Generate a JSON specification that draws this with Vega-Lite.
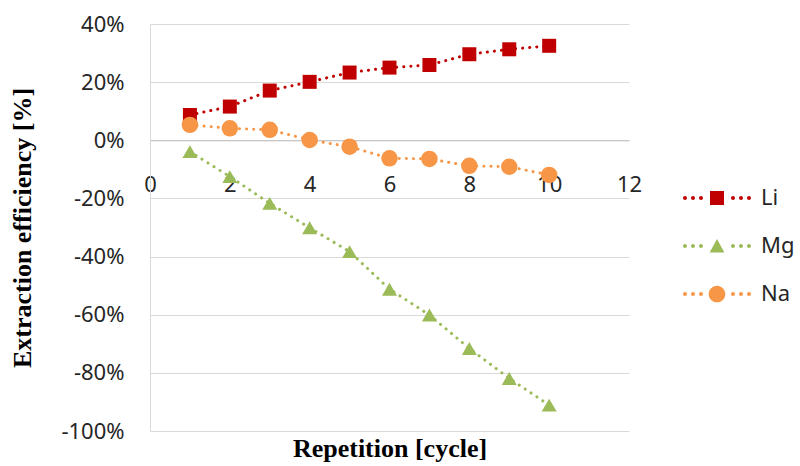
{
  "$schema": "https://vega.github.io/schema/vega-lite/v6.json",
  "autosize": {"type": "none"},
  "padding": {"left": 150, "top": 24, "right": 171, "bottom": 35},
  "width": 479,
  "height": 407,
  "background": "white",
  "config": {
    "view": {"stroke": null},
    "font": "Noto Sans"
  },
  "data": {
    "values": [
      {"series": "Li", "cycle": 1, "value": 0.087},
      {"series": "Li", "cycle": 2, "value": 0.116},
      {"series": "Li", "cycle": 3, "value": 0.171},
      {"series": "Li", "cycle": 4, "value": 0.201},
      {"series": "Li", "cycle": 5, "value": 0.233},
      {"series": "Li", "cycle": 6, "value": 0.250},
      {"series": "Li", "cycle": 7, "value": 0.259},
      {"series": "Li", "cycle": 8, "value": 0.296},
      {"series": "Li", "cycle": 9, "value": 0.313},
      {"series": "Li", "cycle": 10, "value": 0.325},
      {"series": "Mg", "cycle": 1, "value": -0.039},
      {"series": "Mg", "cycle": 2, "value": -0.125},
      {"series": "Mg", "cycle": 3, "value": -0.217},
      {"series": "Mg", "cycle": 4, "value": -0.301},
      {"series": "Mg", "cycle": 5, "value": -0.383},
      {"series": "Mg", "cycle": 6, "value": -0.512},
      {"series": "Mg", "cycle": 7, "value": -0.601},
      {"series": "Mg", "cycle": 8, "value": -0.716},
      {"series": "Mg", "cycle": 9, "value": -0.819},
      {"series": "Mg", "cycle": 10, "value": -0.911},
      {"series": "Na", "cycle": 1, "value": 0.053},
      {"series": "Na", "cycle": 2, "value": 0.041},
      {"series": "Na", "cycle": 3, "value": 0.036},
      {"series": "Na", "cycle": 4, "value": 0.001},
      {"series": "Na", "cycle": 5, "value": -0.022},
      {"series": "Na", "cycle": 6, "value": -0.062},
      {"series": "Na", "cycle": 7, "value": -0.064},
      {"series": "Na", "cycle": 8, "value": -0.088},
      {"series": "Na", "cycle": 9, "value": -0.091},
      {"series": "Na", "cycle": 10, "value": -0.119}
    ]
  },
  "encoding": {
    "x": {
      "field": "cycle", "type": "quantitative",
      "scale": {"domain": [0, 12], "nice": false, "zero": false},
      "axis": {
        "title": "Repetition [cycle]",
        "values": [0, 2, 4, 6, 8, 10, 12],
        "grid": false, "ticks": false,
        "offset": -290.7,
        "domainColor": "#bfbfbf", "domainWidth": 1,
        "labelFont": "Noto Sans", "labelFontSize": 22, "labelColor": "#262626",
        "labelPadding": 34, "labelFlush": false,
        "titleFont": "Liberation Serif", "titleFontSize": 26, "titleFontWeight": "bold", "titleColor": "#000000",
        "titleY": 295
      }
    },
    "y": {
      "field": "value", "type": "quantitative",
      "scale": {"domain": [-1, 0.4], "nice": false, "zero": false},
      "axis": {
        "title": "Extraction efficiency [%]",
        "values": [-1, -0.8, -0.6, -0.4, -0.2, 0, 0.2, 0.4],
        "labelExpr": "round(datum.value*100) + '%'",
        "grid": true, "gridColor": "#d9d9d9", "gridWidth": 1,
        "ticks": false,
        "domainColor": "#d9d9d9", "domainWidth": 1,
        "labelFont": "Noto Sans", "labelFontSize": 22, "labelColor": "#262626",
        "labelPadding": 26,
        "titleFont": "Liberation Serif", "titleFontSize": 26, "titleFontWeight": "bold", "titleColor": "#000000",
        "titleX": -128, "titleY": 203.5, "titleBaseline": "middle", "titleAlign": "center"
      }
    },
    "color": {
      "field": "series", "type": "nominal",
      "scale": {"domain": ["Li", "Mg", "Na"], "range": ["#C00000", "#9BBB59", "#F79646"]},
      "legend": {
        "title": null,
        "orient": "none",
        "legendX": 535,
        "legendY": 142,
        "labelFont": "Noto Sans",
        "labelFontSize": 22,
        "labelColor": "#262626",
        "rowPadding": 5,
        "labelOffset": 12,
        "symbolStrokeWidth": 0,
        "symbolOpacity": 1,
        "encode": {
          "symbols": {
            "update": {
              "size": {"value": 4096},
              "strokeWidth": {"value": 0},
              "opacity": {"value": 1},
              "shape": {"signal": "(datum.value === 'Li' ? 'M-0.219,-0.219H0.219V0.219H-0.219Z' : datum.value === 'Mg' ? 'M0,-0.22L0.23,0.2L-0.23,0.2Z' : 'M-0.26,0A0.26,0.26 0 1,0 0.26,0A0.26,0.26 0 1,0 -0.26,0Z') + 'M-1.0625,0A0.0625,0.0625 0 1,0 -0.9375,0A0.0625,0.0625 0 1,0 -1.0625,0ZM-0.8125,0A0.0625,0.0625 0 1,0 -0.6875,0A0.0625,0.0625 0 1,0 -0.8125,0ZM-0.5625,0A0.0625,0.0625 0 1,0 -0.4375,0A0.0625,0.0625 0 1,0 -0.5625,0ZM0.4375,0A0.0625,0.0625 0 1,0 0.5625,0A0.0625,0.0625 0 1,0 0.4375,0ZM0.6875,0A0.0625,0.0625 0 1,0 0.8125,0A0.0625,0.0625 0 1,0 0.6875,0ZM0.9375,0A0.0625,0.0625 0 1,0 1.0625,0A0.0625,0.0625 0 1,0 0.9375,0Z'"}
            }
          }
        }
      }
    }
  },
  "layer": [
    {
      "mark": {"type": "line", "strokeWidth": 3, "strokeCap": "round", "strokeDash": [0.1, 7]},
      "encoding": {
        "detail": {"field": "series"}
      }
    },
    {
      "mark": {"type": "point", "filled": true, "opacity": 1, "strokeWidth": 0},
      "encoding": {
        "shape": {
          "condition": [
            {"test": "datum.series === 'Li'", "value": "square"},
            {"test": "datum.series === 'Mg'", "value": "triangle-up"}
          ],
          "value": "circle"
        },
        "size": {
          "condition": [
            {"test": "datum.series === 'Li'", "value": 196},
            {"test": "datum.series === 'Mg'", "value": 225}
          ],
          "value": 272
        }
      }
    }
  ]
}
